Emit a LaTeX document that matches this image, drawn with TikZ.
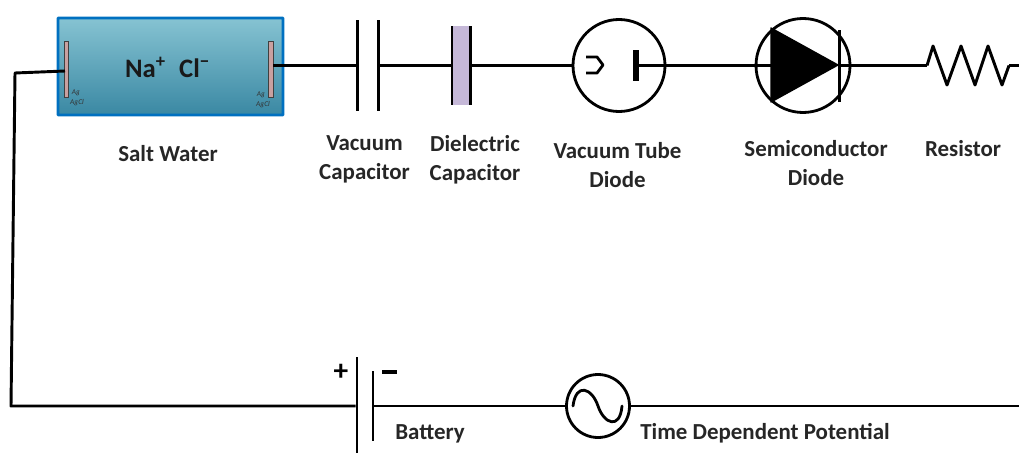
\documentclass[tikz,border=0pt]{standalone}
\usepackage{fontspec}
\setmainfont{Carlito}
\def\px{0.75pt}
\begin{document}
\begin{tikzpicture}[x=0.75pt,y=-0.75pt]
\tikzstyle{every node}=[inner sep=0pt,outer sep=0pt];
\tikzstyle{wire}=[draw,line width=2.2pt,line join=round];
\tikzstyle{plate}=[fill=black,minimum width=2.2pt];
\tikzstyle{electrode}=[draw=black!75,line width=0.7pt,fill=rosy,minimum width=3.2pt,minimum height=56*\px];
\tikzstyle{ring}=[draw,circle,line width=2.1pt];
\tikzstyle{label}=[font=\fontsize{17.2}{21.7}\selectfont\bfseries,text=black!85,align=center];
\tikzstyle{tiny}=[font=\fontsize{5.5}{5.5}\selectfont\itshape,text=black!80];
\definecolor{rosy}{RGB}{201,160,160}
\definecolor{lilac}{RGB}{197,184,216}
\definecolor{cellblue}{RGB}{0,112,192}
\definecolor{watertop}{RGB}{134,195,210}
\definecolor{waterbottom}{RGB}{58,136,163}
\useasboundingbox (0,0) rectangle (1019,453);
% salt water cell
\node[draw=cellblue,line width=2.2pt,rounded corners=0.5pt,top color=watertop,bottom color=waterbottom,minimum width=225*\px,minimum height=97*\px] (cell) at (170.5,66.5) {};
\node[electrode] (elecleft) at (66.5,69) {};
\node[electrode] (elecright) at (271,69) {};
\node[font=\fontsize{20}{20}\selectfont\bfseries,text=black!90] (ions) at (167.5,67) {Na\textsuperscript{+}\,\,\,Cl\textsuperscript{−}};
\node[tiny] (agl) at (76,93) {Ag};
\node[tiny] (agcll) at (77,103) {AgCl};
\node[tiny] (agr) at (261,95) {Ag};
\node[tiny] (agclr) at (263,105) {AgCl};
% capacitors
\node[plate,minimum height=91*\px] (vacl) at (357.5,65.5) {};
\node[plate,minimum height=91*\px] (vacr) at (378.5,65.5) {};
\node[fill=lilac,minimum width=18*\px,minimum height=79*\px] (diel) at (461,65.5) {};
\node[plate,minimum height=79*\px] (diell) at (452,65.5) {};
\node[plate,minimum height=79*\px] (dielr) at (470.5,65.5) {};
% vacuum tube diode
\node[ring,minimum size=92*\px] (tube) at (619,65.5) {};
\coordinate (cathode) at (603,65);
\node[fill=black,minimum width=6*\px,minimum height=31*\px] (anode) at (636,65.5) {};
\draw[line width=2.1pt,line join=round] (586,57) -- (597,57) -- (cathode) -- (597,73) -- (586,73);
% semiconductor diode
\node[ring,minimum size=94*\px] (semi) at (803,65.5) {};
\coordinate (triup) at (771,28);
\coordinate (tridown) at (771,102);
\coordinate (tritip) at (838,65);
\draw[fill=black,line join=round,line width=1pt] (triup) -- (tritip) -- (tridown) -- cycle;
\node[plate,minimum height=72*\px] (bar) at (839.5,66) {};
% resistor
\coordinate (resin) at (927,65.5);
\coordinate (resout) at (1009,65.5);
\draw[wire] (resin) -- (933,46) -- (947,85) -- (961,46) -- (975,85) -- (988,46) -- (1002,85) -- (resout);
% battery and source
\node[plate,minimum height=96*\px] (batl) at (357,405) {};
\node[plate,minimum height=70*\px] (batr) at (373,406) {};
\node[ring,minimum size=63*\px] (source) at (598,406) {};
\draw[line width=2.1pt,line cap=round] (573,406) .. controls (576,382) and (592,388) .. (598,406) .. controls (604,424) and (620,430) .. (622,406);
\node[font=\fontsize{22}{22}\selectfont\bfseries] (plus) at (341,372) {+};
\node[fill=black,minimum width=15*\px,minimum height=3.5*\px] (minus) at (389,372) {};
% wires
\coordinate (tapleft) at (65,71);
\coordinate (cornertop) at (15,73);
\coordinate (cornerbottom) at (11,406);
\coordinate (endtop) at (1019,65.5);
\coordinate (endbottom) at (1019,406);
\draw[wire] (tapleft) -- (cornertop) -- (cornerbottom) -- (batl.west |- batr.east);
\draw[wire] (elecright.east |- vacl.west) -- (vacl.west);
\draw[wire] (vacr.east) -- (diell.west);
\draw[wire] (dielr.east) -- (tube.west);
\draw[wire] (anode.east) -- (semi.west);
\draw[wire] (semi.west) -- (triup |- semi.west);
\draw[wire] (bar.east |- semi.east) -- (resin);
\draw[wire] (resout) -- (endtop);
\draw[wire] (batr.east) -- (source.west);
\draw[wire] (source.east) -- (endbottom);
% labels
\node[label] (lblsalt) at (168,154) {Salt Water};
\node[label] (lblvac) at (364.5,159.5) {Vacuum\\Capacitor};
\node[label] (lbldiel) at (475,159.5) {Dielectric\\Capacitor};
\node[label] (lbltube) at (617.5,165) {Vacuum Tube\\Diode};
\node[label] (lblsemi) at (816,163) {Semiconductor\\Diode};
\node[label] (lblres) at (963,148.5) {Resistor};
\node[label] (lblbat) at (430,433.5) {Battery};
\node[label] (lblsource) at (765,433.5) {Time Dependent Potential};
\end{tikzpicture}
\end{document}
